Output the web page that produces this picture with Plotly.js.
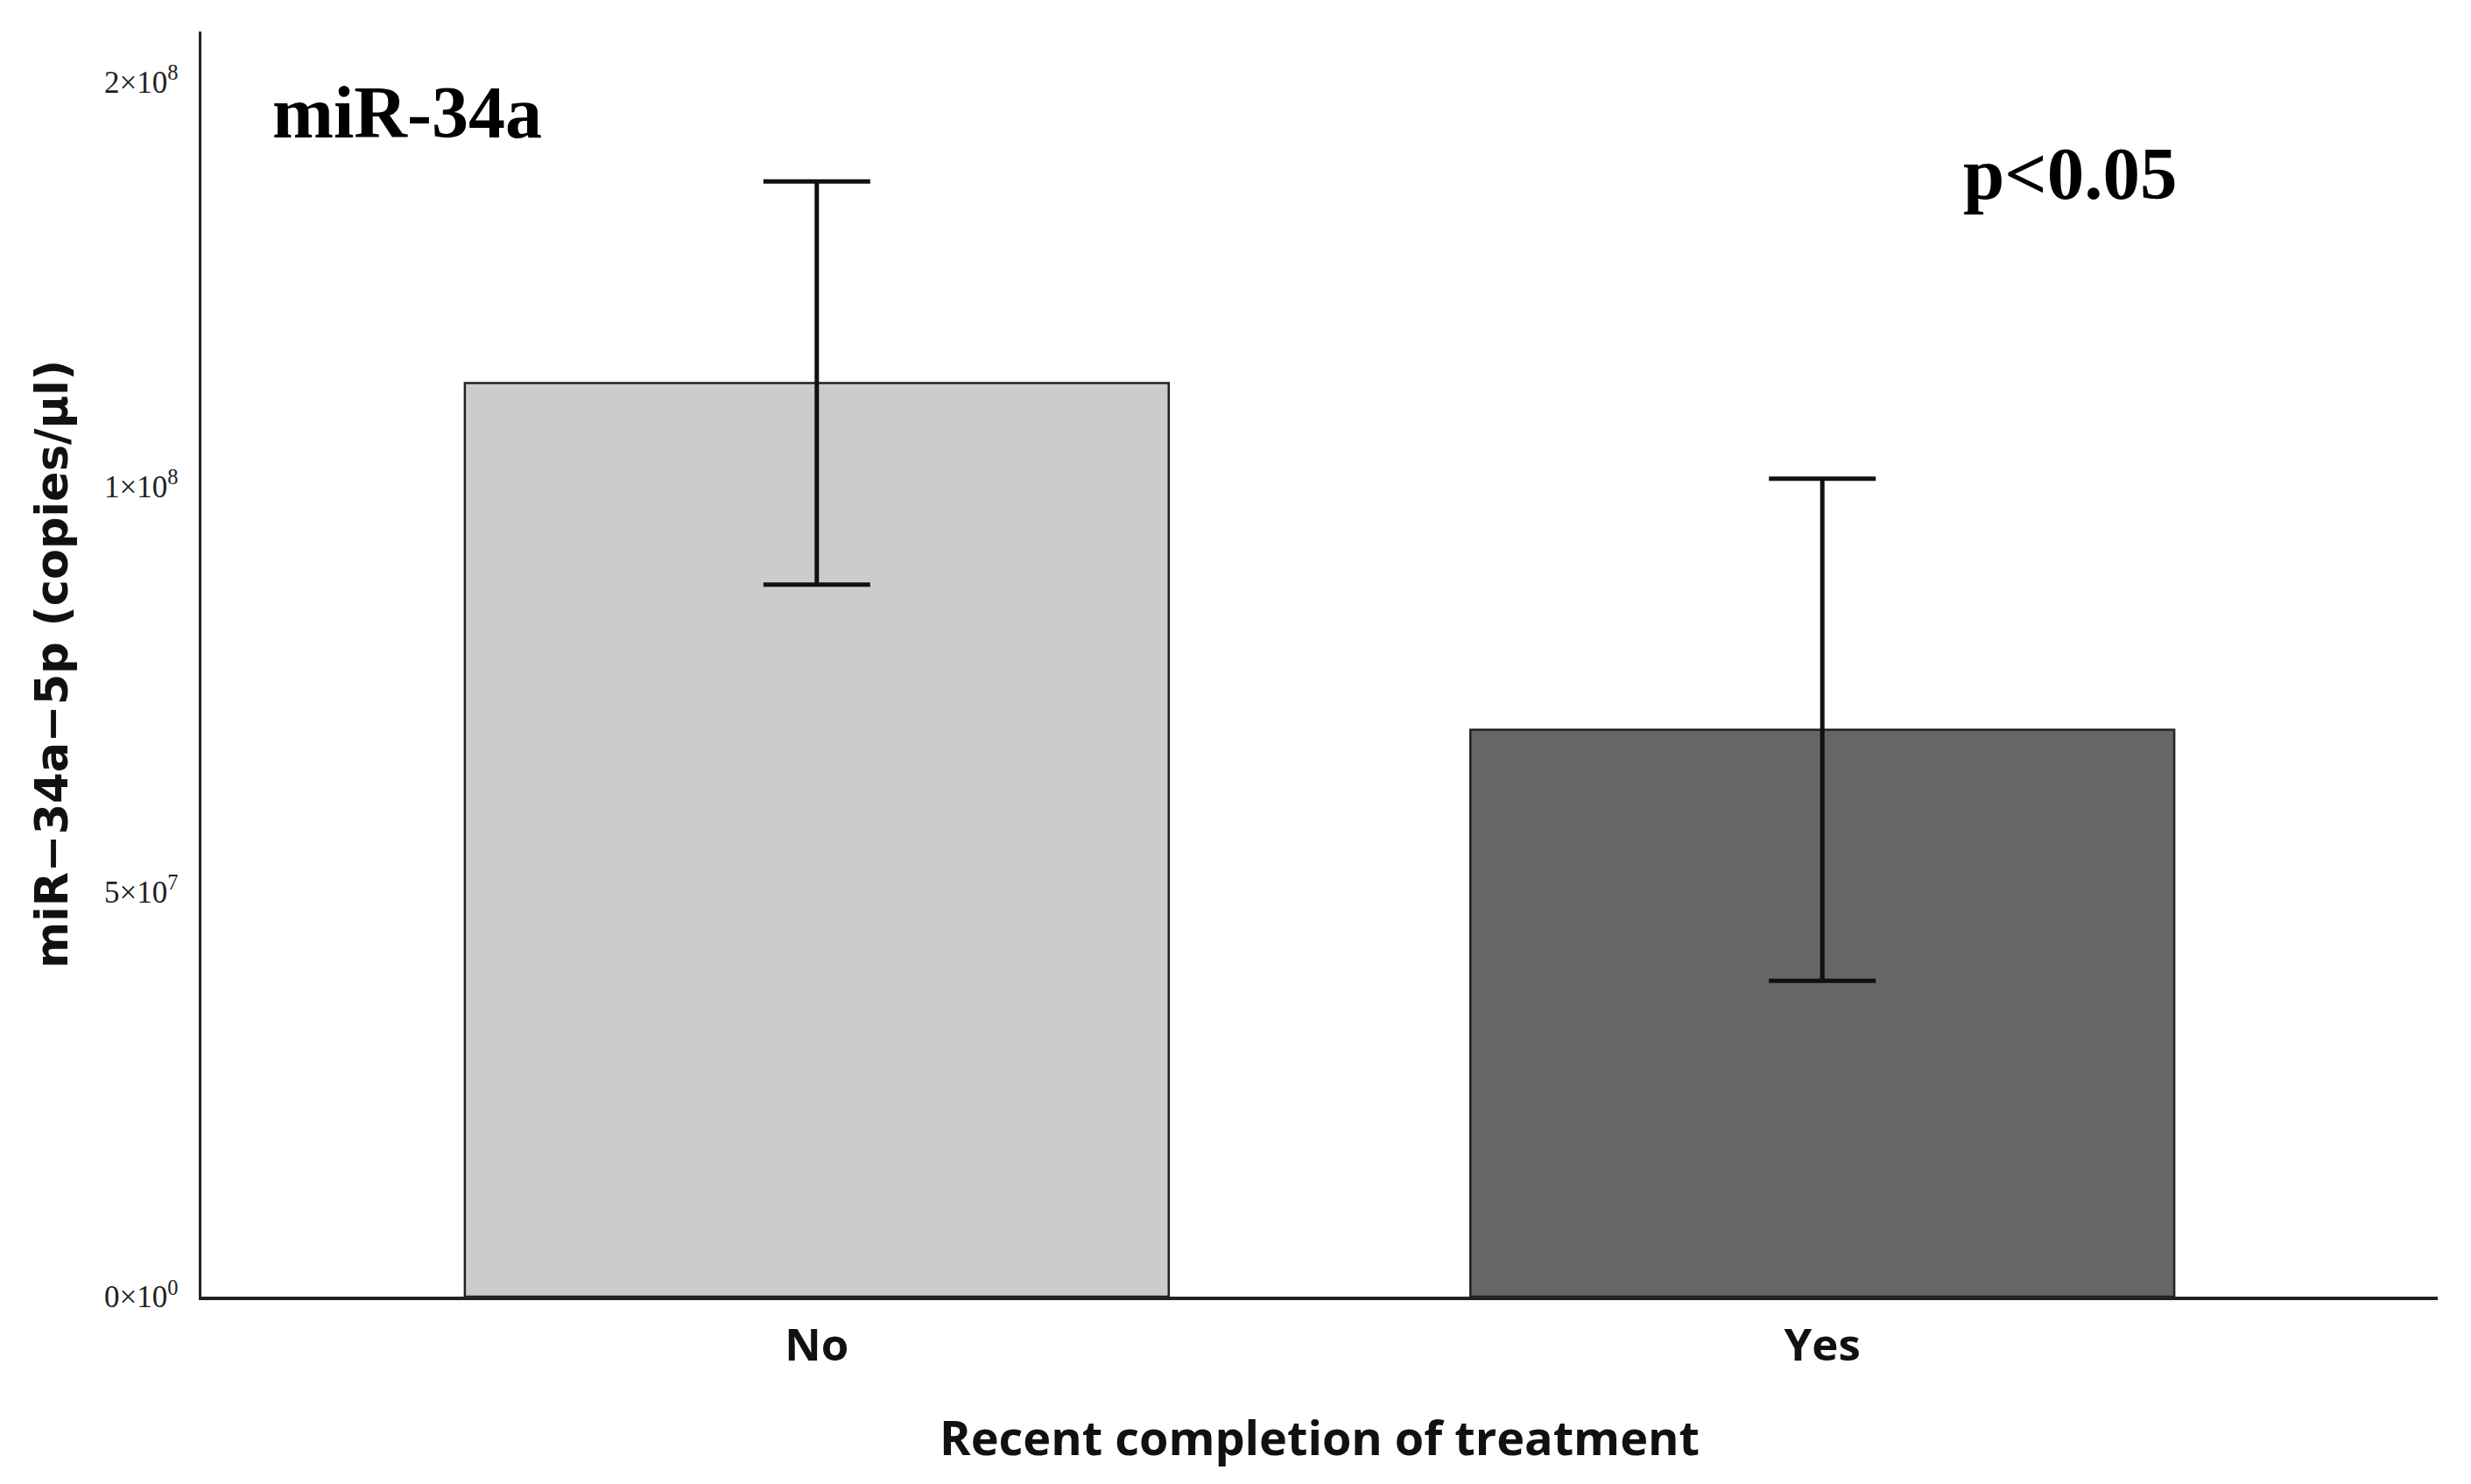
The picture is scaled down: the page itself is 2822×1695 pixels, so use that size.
<!DOCTYPE html>
<html>
<head>
<meta charset="utf-8">
<script src="https://cdn.plot.ly/plotly-3.0.1.min.js"></script>
<style>html,body{margin:0;padding:0;background:#fff;}#chart{width:2822px;height:1695px;}</style>
</head>
<body>
<div id="chart"></div>
<script>
const categories = ['No', 'Yes'];
const meanCopies = [1.128e8, 0.700e8];
const errCopies = [0.249e8, 0.310e8];
const barColors = ['#cccccc', '#666666'];
const yTickVals = [0, 5e7, 1e8, 1.5e8];
const yTickText = ['0×10<sup>0</sup>', '5×10<sup>7</sup>', '1×10<sup>8</sup>', '2×10<sup>8</sup>'];

const trace = {
  type: 'bar',
  x: categories,
  y: meanCopies,
  width: 0.7,
  marker: {color: barColors, line: {color: '#222222', width: 2.5}},
  error_y: {type: 'data', array: errCopies, visible: true, color: '#111111', thickness: 5, width: 61},
  hoverinfo: 'none'
};

const layout = {
  width: 2822, height: 1695,
  margin: {l: 230, r: 38, t: 36, b: 214},
  paper_bgcolor: '#ffffff', plot_bgcolor: '#ffffff',
  showlegend: false,
  bargap: 0.3,
  xaxis: {
    type: 'category',
    range: [-0.612, 1.612],
    showline: true, linecolor: '#222222', linewidth: 3.5,
    showgrid: false, zeroline: false, ticks: '',
    ticklabelstandoff: 8,
    tickfont: {family: 'Open Sans', size: 51, color: '#111111', weight: 'bold'},
    title: {text: '<b>Recent completion of treatment</b>', font: {family: 'Open Sans', size: 54, color: '#111111'}, standoff: 57}
  },
  yaxis: {
    range: [0, 1.562e8],
    showline: true, linecolor: '#222222', linewidth: 3.5,
    showgrid: false, zeroline: false, ticks: '',
    tickvals: yTickVals, ticktext: yTickText,
    ticklabelstandoff: 16,
    tickfont: {family: 'Liberation Serif', size: 35, color: '#222222'},
    title: {text: '<b>miR\u221234a\u22125p (copies/µl)</b>', font: {family: 'DejaVu Sans', size: 51, color: '#111111'}, standoff: 26}
  },
  annotations: [
    {text: '<b>miR-34a</b>', xref: 'paper', yref: 'paper', x: 0.031, y: 0.936, xanchor: 'left', yanchor: 'middle', showarrow: false,
     font: {family: 'Liberation Serif', size: 84, color: '#000000'}},
    {text: '<b>p<0.05</b>', xref: 'paper', yref: 'paper', x: 0.787, y: 0.888, xanchor: 'left', yanchor: 'middle', showarrow: false,
     font: {family: 'Liberation Serif', size: 85, color: '#000000'}}
  ]
};

Plotly.newPlot('chart', [trace], layout, {staticPlot: true, displayModeBar: false});
</script>
</body>
</html>
